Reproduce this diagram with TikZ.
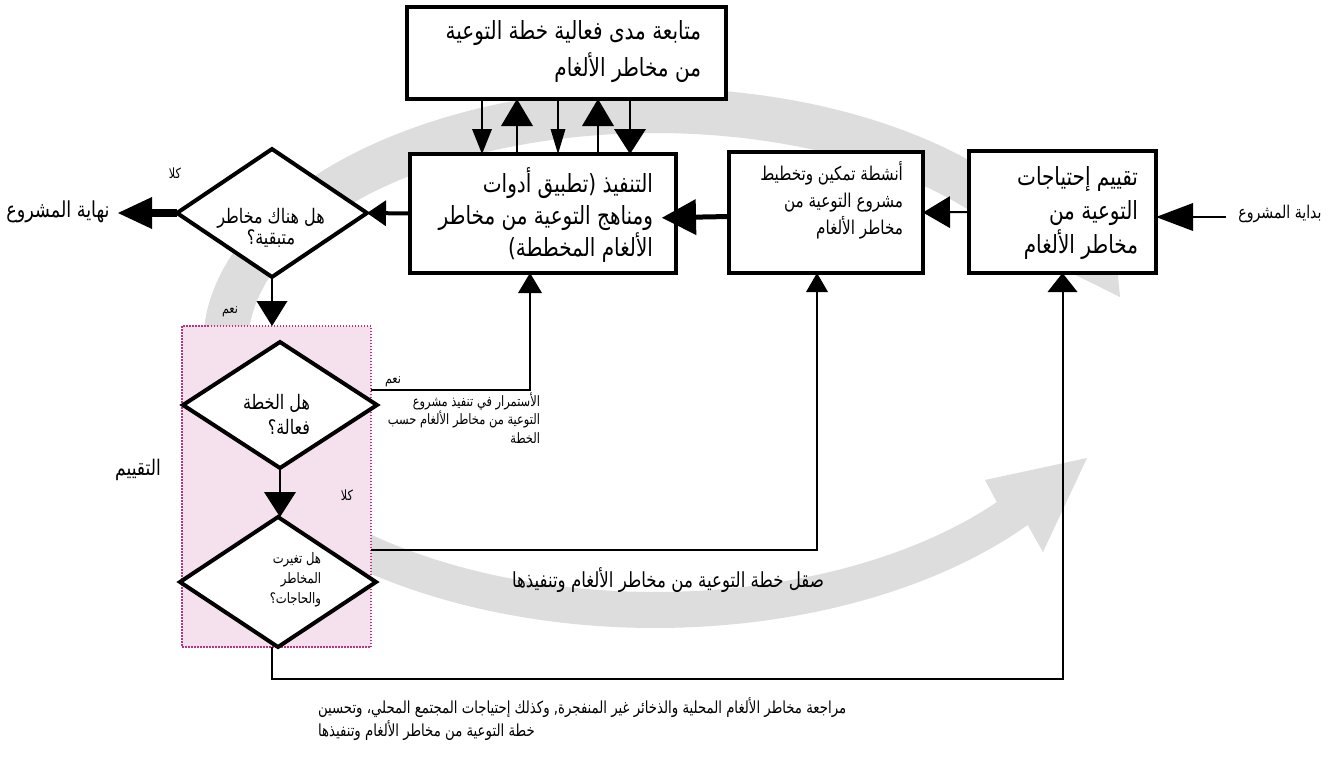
\documentclass[tikz,border=0pt]{standalone}
\usepackage{fontspec}
\TeXXeTstate=1
\newfontfamily\arfont[Script=Arabic,FakeStretch=0.8]{DejaVu Sans}
\usetikzlibrary{arrows.meta,shapes.geometric}
\newcommand\arline[1]{\beginR #1\endR}
\definecolor{bandgray}{RGB}{221,221,221}
\definecolor{pinkfill}{RGB}{245,225,237}
\definecolor{pinkline}{RGB}{190,50,130}
\tikzset{
  boxst/.style={draw, line width=4pt, fill=white, inner sep=0pt, outer sep=0pt},
  diast/.style={diamond, draw, line width=4pt, fill=white, inner sep=0pt, outer sep=0pt},
  pinkst/.style={draw=pinkline, fill=pinkfill, line width=1.5pt, dash pattern=on 1.5pt off 1.5pt, inner sep=0pt, outer sep=0pt},
  thinln/.style={line width=2pt},
  arh/.style 2 args={-{Triangle[length=#1pt,width=#2pt,line width=0pt]}},
  txt/.style={inner sep=0pt, outer sep=0pt},
  fsz/.style 2 args={font=\arfont\fontsize{#1}{#2}\selectfont}
}
\begin{document}
\begin{tikzpicture}[x=1pt,y=-1pt]
\useasboundingbox (0,0) rectangle (1342,758);
\fill[white] (0,0) rectangle (1342,758);
% grey cycle bands
\fill[bandgray] plot[domain=180:27,samples=90] ({655+452*cos(\x)},{345-257*sin(\x)})
  -- (1110,190) -- (1120,297) -- (1005,240)
  -- plot[domain=27:180,samples=90] ({655+407*cos(\x)},{345-212*sin(\x)}) -- cycle;
\fill[bandgray] plot[domain=137:39.5,samples=90] ({655+483*cos(\x)},{345+283*sin(\x)})
  -- (1043,552) -- (1087,458) -- (985,480)
  -- plot[domain=39.5:137,samples=90] ({655+443*cos(\x)},{345+247*sin(\x)}) -- cycle;
% evaluation area
\node[pinkst, minimum width=189pt, minimum height=321pt] (pink) at (276.5,486.5) {};
% boxes
\node[boxst, minimum width=319pt, minimum height=92pt] (tb) at (566.5,53) {};
\node[boxst, minimum width=266pt, minimum height=119pt] (eb) at (543,213.5) {};
\node[boxst, minimum width=194pt, minimum height=121pt] (pb) at (826,212.5) {};
\node[boxst, minimum width=187pt, minimum height=122pt] (rb) at (1062.5,212) {};
% diamonds
\node[diast, minimum width=190pt, minimum height=128pt] (d1) at (272,213) {};
\node[diast, minimum width=194pt, minimum height=126pt] (d2) at (280,405) {};
\node[diast, minimum width=196pt, minimum height=130pt] (d3) at (278,582) {};
% texts
\node[txt, anchor=east, align=right, fsz={25}{37}] (tbt) at (701,52) {\arline{متابعة مدى فعالية خطة التوعية}\\\arline{من مخاطر الألغام}};
\node[txt, anchor=east, align=right, fsz={25}{32}] (ebt) at (653,215) {\arline{التنفيذ (تطبيق أدوات}\\\arline{ومناهج التوعية من مخاطر}\\\arline{الألغام المخططة)}};
\node[txt, anchor=east, align=right, fsz={19}{27}] (pbt) at (903,200) {\arline{أنشطة تمكين وتخطيط}\\\arline{مشروع التوعية من}\\\arline{مخاطر الألغام}};
\node[txt, anchor=east, align=right, fsz={25}{34}] (rbt) at (1138,213) {\arline{تقييم إحتياجات}\\\arline{التوعية من}\\\arline{مخاطر الألغام}};
\node[txt, align=center, fsz={20}{18}] (d1t) at (271,228) {\arline{هل هناك مخاطر}\\\arline{متبقية؟}};
\node[txt, anchor=east, align=right, fsz={20}{25}] (d2t) at (310,414) {\arline{هل الخطة}\\\arline{فعالة؟}};
\node[txt, anchor=east, align=right, fsz={14.5}{20}] (d3t) at (321,580) {\arline{هل تغيرت}\\\arline{المخاطر}\\\arline{والحاجات؟}};
\node[txt, fsz={14}{16}] (no1) at (175,173) {\arline{كلا}};
\node[txt, fsz={14}{16}] (yes1) at (230,312) {\arline{نعم}};
\node[txt, fsz={14}{16}] (yes2) at (393,382) {\arline{نعم}};
\node[txt, fsz={14}{16}] (no2) at (347,495) {\arline{كلا}};
\node[txt, anchor=east, align=right, fsz={14.3}{18.5}] (contt) at (540,418) {\arline{الأستمرار في تنفيذ مشروع}\\\arline{التوعية من مخاطر الألغام حسب}\\\arline{الخطة}};
\node[txt, fsz={21.5}{24}] (evalt) at (138,470) {\arline{التقييم}};
\node[txt, fsz={20.8}{22}] (refinet) at (668,580) {\arline{صقل خطة التوعية من مخاطر الألغام وتنفيذها}};
\node[txt, anchor=west, align=left, fsz={16.6}{23}] (bott) at (318,719.5) {\arline{مراجعة مخاطر الألغام المحلية والذخائر غير المنفجرة, وكذلك إحتياجات المجتمع المحلي، وتحسين}\\\arline{خطة التوعية من مخاطر الألغام وتنفيذها}};
\node[txt, fsz={17.6}{20}] (startl) at (1280,214) {\arline{بداية المشروع}};
\node[txt, fsz={22}{24}] (endl) at (58,212) {\arline{نهاية المشروع}};
% helper coordinates
\coordinate (sc) at (1226,217);
\coordinate (endc) at (118,213);
\coordinate (y390) at (0,390);
\coordinate (y550) at (0,550);
\coordinate (y679) at (0,679);
% connectors
\draw[thinln, arh={37}{28}] (sc) -- (rb.east |- sc);
\draw[thinln, arh={27}{32}] (rb.west) -- (pb.east);
\draw[line width=5pt, arh={34}{36}, shorten >=-14pt] ([yshift=-4pt]pb.west) -- ([yshift=-4pt]eb.east);
\draw[line width=4pt, arh={19}{26}] (eb.west) -- (d1.east);
\draw[line width=8pt, arh={34}{32}] (d1.west) -- (endc);
\draw[thinln, arh={25}{31}] (d1.south) -- (d1.south |- pink.north);
\draw[thinln, arh={25}{32}] (d2.south) -- (d2.south |- d3.north);
\draw[thinln, arh={20}{24}] (pink.east |- y390) -| ([xshift=-13pt]eb.south);
\draw[thinln, arh={19}{22}] (pink.east |- y550) -| ([xshift=-9pt]pb.south);
\draw[thinln, arh={19}{30}] ([xshift=-6pt]d3.south) |- (rb.south |- y679) -- (rb.south);
% monitoring arrows
\draw[thinln, arh={25}{20}] ([xshift=-84.5pt]tb.south) -- ([xshift=-61pt]eb.north);
\draw[thinln, arh={27}{32}] ([xshift=-26pt]eb.north) -- ([xshift=-49.5pt]tb.south);
\draw[thinln, arh={25}{15}] ([xshift=-8.5pt]tb.south) -- ([xshift=15pt]eb.north);
\draw[thinln, arh={27}{32}] ([xshift=55pt]eb.north) -- ([xshift=31.5pt]tb.south);
\draw[thinln, arh={25}{32}] ([xshift=63.5pt]tb.south) -- ([xshift=87pt]eb.north);
\end{tikzpicture}
\end{document}
